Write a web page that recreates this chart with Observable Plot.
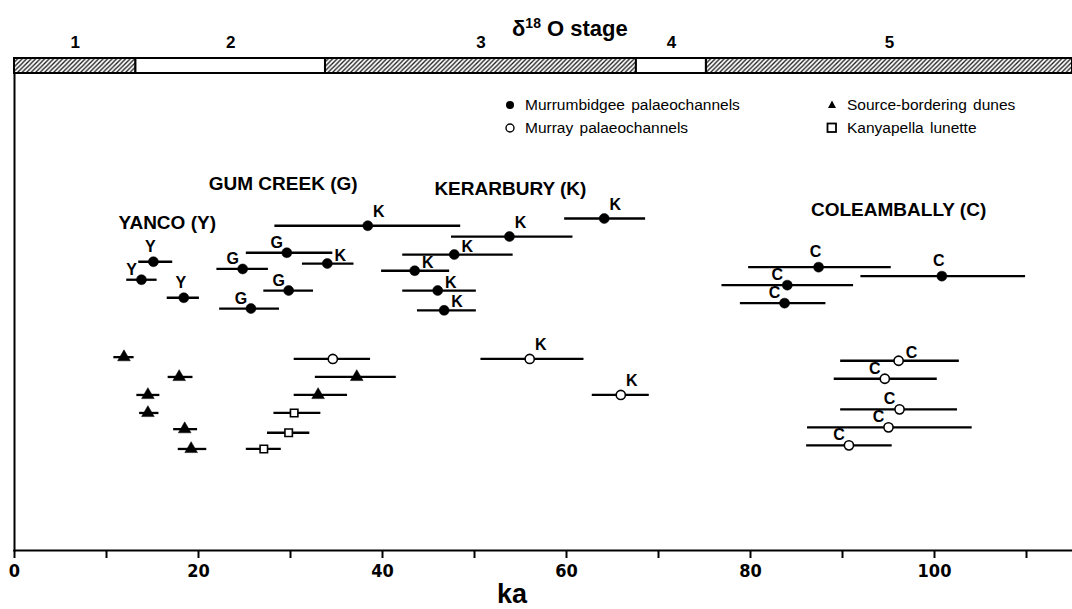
<!DOCTYPE html>
<html>
<head>
<meta charset="utf-8">
<script src="https://cdn.jsdelivr.net/npm/d3@7"></script>
<script src="https://cdn.jsdelivr.net/npm/@observablehq/plot@0.6"></script>
<style>
  body { margin: 0; background: #fff; font-family: "Liberation Sans", Arial, Helvetica, sans-serif; color: #000; }
  #wrap { position: relative; width: 1072px; height: 609px; overflow: hidden; background: #fff; }
  #wrap svg { display: block; }
  .title { position: absolute; left: 512px; top: 18px; font-weight: bold; font-size: 22px; line-height: 1; white-space: nowrap; }
  .title sup { font-size: 14px; vertical-align: 8px; line-height: 0; }
  .leg { position: absolute; font-size: 15.5px; line-height: 1; white-space: nowrap; word-spacing: 2px; }
  .ka { position: absolute; left: 512px; top: 581px; transform: translateX(-50%); font-weight: bold; font-size: 27px; line-height: 1; }
</style>
</head>
<body>
<div id="wrap"></div>
<script>
// ---------------- data ----------------
// δ18O stages
const stageNum   = [1, 2, 3, 4, 5];
const stageStart = [0, 13.2, 33.8, 67.6, 75.2];
const stageEnd   = [13.2, 33.8, 67.6, 75.2, 115];

// Murrumbidgee palaeochannels (filled circles): site, age (ka), error range, row
const murSite = ["Y","Y","Y","G","G","G","G","K","K","K","K","K","K","K","K","C","C","C","C"];
const murAge  = [15.1,13.8,18.4,29.6,24.8,29.8,25.7,34.0,38.4,64.1,53.8,47.8,43.5,46.0,46.7,87.4,100.8,84.0,83.7];
const murLo   = [13.5,12.2,16.6,25.2,22.0,27.1,22.3,31.3,28.3,59.8,47.5,42.2,39.9,42.2,43.8,79.8,92.0,76.9,78.9];
const murHi   = [17.2,15.5,20.1,34.6,27.6,32.5,28.8,36.9,48.5,68.6,60.7,54.2,47.3,50.2,50.2,95.3,109.9,91.2,88.2];
const murRow  = [3.4,4.4,5.4,2.9,3.8,5.0,6.0,3.5,1.4,1.0,2.0,3.0,3.9,5.0,6.1,3.7,4.2,4.7,5.7];
const murSide = ["n","nw","n","nw","nw","nw","nw","ne","nne","nne","nne","ne","ne","ne","ne","n","n","nw","nw"];

// Murray palaeochannels (open circles)
const myrSite = ["","K","K","C","C","C","C","C"];
const myrAge  = [34.6,56.0,65.9,96.1,94.6,96.2,95.0,90.7];
const myrLo   = [30.4,50.7,62.8,89.8,89.1,89.8,86.2,86.1];
const myrHi   = [38.7,61.9,69.0,102.7,100.3,102.5,104.1,95.4];
const myrRow  = [8.8,8.8,10.8,8.9,9.9,11.6,12.6,13.6];
const myrSide = ["","nne","nne","ne","nw","nw","nw","nw"];

// Source-bordering dunes (triangles)
const dunAge = [11.9,17.9,37.2,14.5,33.0,14.5,18.5,19.2];
const dunLo  = [10.8,16.7,32.7,13.3,30.4,13.6,17.3,17.8];
const dunHi  = [13.0,19.4,41.5,15.8,36.2,15.7,19.9,20.9];
const dunRow = [8.7,9.8,9.8,10.8,10.8,11.8,12.7,13.8];

// Kanyapella lunette (open squares)
const lunAge = [30.4,29.8,27.1];
const lunLo  = [28.2,27.5,25.2];
const lunHi  = [33.3,32.1,29.0];
const lunRow = [11.8,12.9,13.8];

// Site group labels
const groupName = ["YANCO (Y)","GUM CREEK (G)","KERARBURY (K)","COLEAMBALLY (C)"];
const groupX    = [16.6, 29.2, 53.9, 96.1];
const groupRow  = [1.25, -0.92, -0.64, 0.53];

const legendItems = ["Murrumbidgee palaeochannels","Murray palaeochannels","Source-bordering dunes","Kanyapella lunette"];
const xTicks = d3.range(0, 111, 10);

// ---------------- build tables ----------------
const stages = stageNum.map((n, i) => ({num: n, start: stageStart[i], end: stageEnd[i]}));
const mur = murAge.map((a, i) => ({site: murSite[i], age: a, lo: murLo[i], hi: murHi[i], row: murRow[i], side: murSide[i]}));
const myr = myrAge.map((a, i) => ({site: myrSite[i], age: a, lo: myrLo[i], hi: myrHi[i], row: myrRow[i], side: myrSide[i]}));
const dun = dunAge.map((a, i) => ({age: a, lo: dunLo[i], hi: dunHi[i], row: dunRow[i]}));
const lun = lunAge.map((a, i) => ({age: a, lo: lunLo[i], hi: lunHi[i], row: lunRow[i]}));
const groups = groupName.map((g, i) => ({name: g, x: groupX[i], row: groupRow[i]}));
const allBars = [...mur, ...myr, ...dun, ...lun];
const labeled = [...mur, ...myr].filter(d => d.site);

const FONT = '"Liberation Sans", Arial, Helvetica, sans-serif';
const NARROW = '"Liberation Sans Narrow", "Arial Narrow", "DejaVu Sans Condensed", sans-serif';
const xDomain = [0, 115];

const sideOffsets = {n: [-3, -15], nw: [-10, -10], ne: [13, -8], nne: [11, -14]};
const labelMarks = Object.entries(sideOffsets).map(([s, [dx, dy]]) =>
  Plot.text(labeled.filter(d => d.side === s), {x: "age", y: "row", text: "site", dx, dy,
    fontSize: 16, fontWeight: "bold", fill: "black"}));

// ---------------- stage band ----------------
const band = Plot.plot({
  width: 1072, height: 74,
  marginTop: 58, marginBottom: 1, marginLeft: 14, marginRight: 0,
  x: {domain: xDomain, axis: null},
  style: {fontFamily: FONT, background: "transparent", overflow: "visible"},
  marks: [
    Plot.rect(stages.filter(d => d.num % 2 === 1), {x1: "start", x2: "end", fill: "url(#hatch)", stroke: "black", strokeWidth: 2}),
    Plot.rect(stages.filter(d => d.num % 2 === 0), {x1: "start", x2: "end", fill: "white", stroke: "black", strokeWidth: 2}),
    Plot.text(stages, {x: d => (d.start + d.end) / 2, text: "num", frameAnchor: "top", lineAnchor: "middle", dy: -16,
      fontSize: 17, fontWeight: "bold", fill: "black"})
  ]
});
// hatch pattern
const defs = d3.select(band).insert("defs", ":first-child");
const pat = defs.append("pattern").attr("id", "hatch").attr("patternUnits", "userSpaceOnUse")
  .attr("width", 4.5).attr("height", 4.5);
pat.append("rect").attr("width", 4.5).attr("height", 4.5).attr("fill", "white");
pat.append("path").attr("d", "M-1,1 L1,-1 M0,4.5 L4.5,0 M3.5,5.5 L5.5,3.5").attr("stroke", "#1a1a1a").attr("stroke-width", 1.3);

// ---------------- main chart ----------------
const main = Plot.plot({
  width: 1072, height: 535,
  marginTop: 0, marginBottom: 59, marginLeft: 14, marginRight: 0,
  x: {domain: xDomain},
  y: {domain: [-7, 19.44], reverse: true, axis: null},
  style: {fontFamily: FONT, background: "transparent", color: "black", overflow: "visible"},
  marks: [
    Plot.ruleY(allBars, {y: "row", x1: "lo", x2: "hi", stroke: "black", strokeWidth: 2.3}),
    Plot.dot(mur, {x: "age", y: "row", r: 5, fill: "black", stroke: "black", strokeWidth: 0.5}),
    Plot.dot(myr, {x: "age", y: "row", r: 4.6, fill: "white", stroke: "black", strokeWidth: 1.6}),
    Plot.dot(dun, {x: "age", y: "row", symbol: "triangle", r: 4.7, fill: "black", stroke: "black", strokeWidth: 0.5}),
    Plot.dot(lun, {x: "age", y: "row", symbol: "square", r: 4.2, fill: "white", stroke: "black", strokeWidth: 1.6}),
    ...labelMarks,
    Plot.text(groups, {x: "x", y: "row", text: "name", fontSize: 19, fontWeight: "bold", fill: "black"}),
    Plot.axisX({ticks: xTicks, tickSize: 8, tickPadding: 6, strokeWidth: 2,
      tickFormat: d => (d % 20 === 0 ? d : ""), label: null,
      fontSize: 18, fontWeight: "bold", fontFamily: NARROW}),
    Plot.frame({anchor: "bottom", strokeWidth: 2}),
    Plot.frame({anchor: "left", strokeWidth: 2})
  ]
});

// ---------------- assemble ----------------
const wrap = document.getElementById("wrap");
wrap.appendChild(band);
wrap.appendChild(main);

const title = document.createElement("div");
title.className = "title";
title.innerHTML = "δ<sup>18</sup> O stage";
wrap.appendChild(title);

const ka = document.createElement("div");
ka.className = "ka";
ka.textContent = "ka";
wrap.appendChild(ka);

// legend
const legPos = [[510, 105], [510, 128], [832, 105], [832, 128]];
const legSym = ["dot", "circle", "triangle", "square"];
legendItems.forEach((name, i) => {
  const [cx, cy] = legPos[i];
  const div = document.createElement("div");
  div.className = "leg";
  div.style.left = (cx + 15) + "px";
  div.style.top = (cy - 8) + "px";
  div.textContent = name;
  wrap.appendChild(div);
  const s = d3.select(wrap).append("svg").attr("width", 14).attr("height", 14)
    .style("position", "absolute").style("left", (cx - 7) + "px").style("top", (cy - 7) + "px");
  if (legSym[i] === "dot") s.append("circle").attr("cx", 7).attr("cy", 7).attr("r", 4).attr("fill", "black");
  if (legSym[i] === "circle") s.append("circle").attr("cx", 7).attr("cy", 7).attr("r", 4).attr("fill", "white").attr("stroke", "black").attr("stroke-width", 1.4);
  if (legSym[i] === "triangle") s.append("path").attr("d", "M7,2.5 L11,10 L3,10 Z").attr("fill", "black");
  if (legSym[i] === "square") s.append("rect").attr("x", 2.5).attr("y", 2.5).attr("width", 8.5).attr("height", 8.5).attr("fill", "white").attr("stroke", "black").attr("stroke-width", 1.8);
});
</script>
</body>
</html>
